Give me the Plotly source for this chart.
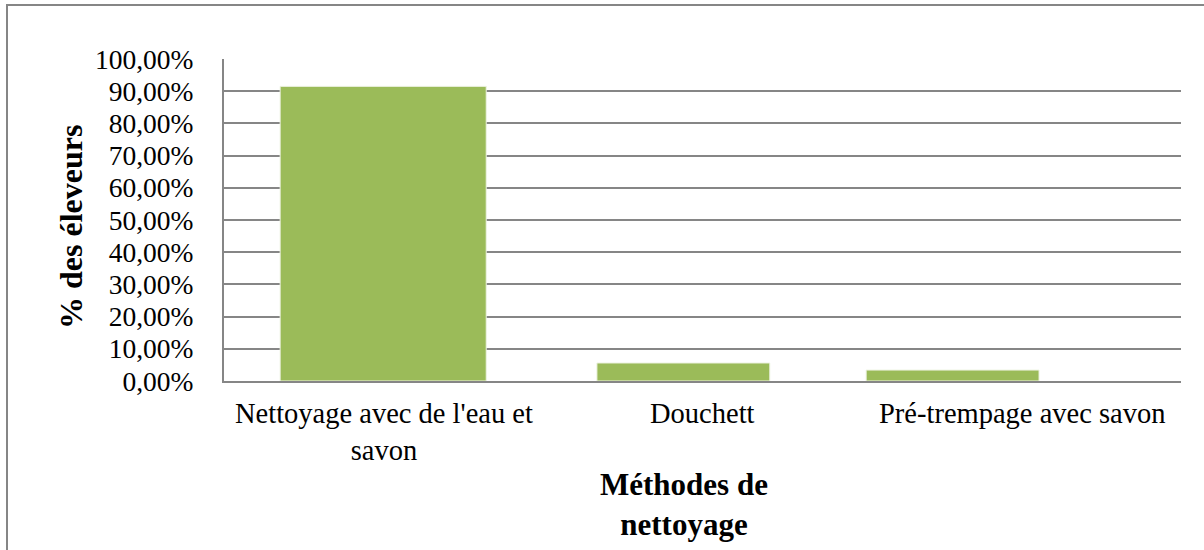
import plotly.graph_objects as go

categories = ["Nettoyage avec de l'eau et savon", "Douchett", "Pré-trempage avec savon"]
label_text = ["Nettoyage avec de l'eau et<br>savon", "Douchett", "Pré-trempage avec savon"]
values = [0.915, 0.056, 0.034]
tick_vals = [i / 10 for i in range(11)]
tick_text = ["0,00%", "10,00%", "20,00%", "30,00%", "40,00%", "50,00%",
             "60,00%", "70,00%", "80,00%", "90,00%", "100,00%"]
x_title = "Méthodes de<br>nettoyage"
y_title = "% des éleveurs"

bar_widths = [0.646, 0.542, 0.542]
bar_offsets = [-0.324, -0.331, -0.487]

FONT = "Liberation Serif, Times New Roman, serif"
GRID = "#868686"
GREEN = "#9BBB59"

L, T, W, H = 224, 59, 957, 322  # plot area in pixels


def px_x(p):
    return (p - L) / W


def px_y(p):
    return (T + H - p) / H


fig = go.Figure(go.Bar(
    x=categories, y=values, width=bar_widths, offset=bar_offsets,
    marker=dict(color=GREEN, line=dict(color="#EEF3E3", width=1)),
    hoverinfo="skip",
))

annotations = []
for cat, txt in zip(categories, label_text):
    annotations.append(dict(
        x=cat, xref="x", y=px_y(396), yref="paper",
        text=txt, showarrow=False, xanchor="center", yanchor="top",
        font=dict(family=FONT, size=28.5, color="black"),
    ))
annotations.append(dict(
    x=px_x(684), xref="paper", y=px_y(504), yref="paper",
    text="<b>" + x_title + "</b>", showarrow=False, xanchor="center", yanchor="middle",
    font=dict(family=FONT, size=31, color="black"),
))
annotations.append(dict(
    x=px_x(71), xref="paper", y=px_y(227), yref="paper",
    text="<b>" + y_title + "</b>", showarrow=False, textangle=-90,
    xanchor="center", yanchor="middle",
    font=dict(family=FONT, size=32, color="black"),
))

fig.update_layout(
    width=1204, height=550,
    margin=dict(l=L, r=1204 - L - W, t=T, b=550 - T - H),
    paper_bgcolor="white", plot_bgcolor="white",
    font=dict(family=FONT, color="black", size=27),
    showlegend=False,
    annotations=annotations,
    shapes=[dict(type="rect", xref="paper", yref="paper",
                 x0=px_x(7), x1=px_x(1215), y0=px_y(560), y1=px_y(5),
                 line=dict(color=GRID, width=2), fillcolor="rgba(0,0,0,0)", layer="below")],
)

fig.update_yaxes(
    range=[0, 1], tickvals=tick_vals, ticktext=tick_text,
    showgrid=True, gridcolor=GRID, gridwidth=2,
    showline=True, linecolor=GRID, linewidth=2,
    zeroline=False, ticks="", ticklabelstandoff=23, automargin=False,
    tickfont=dict(family=FONT, size=27.5, color="black"),
)
fig.update_xaxes(
    showgrid=False, showline=True, linecolor=GRID, linewidth=2,
    ticks="", showticklabels=False, automargin=False,
)

fig.write_html("out.html", config={"displayModeBar": False},
               post_script="document.body.style.margin='0px';")
